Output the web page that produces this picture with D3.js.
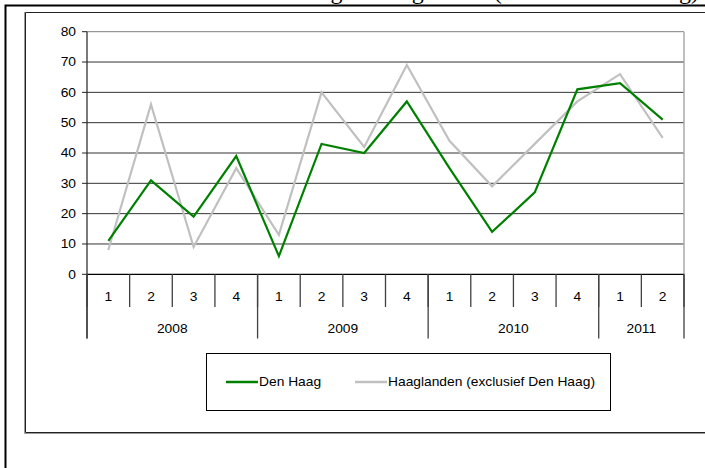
<!DOCTYPE html>
<html lang="en">
<head>
<meta charset="UTF-8">
<title>Den Haag - Haaglanden</title>
<script src="https://d3js.org/d3.v7.min.js"></script>
<style>
    body { margin: 0; background: #fff; }
    svg { display: block; }
    text { font-family: "Liberation Sans", Arial, sans-serif; fill: #000; }
</style>
</head>
<body>
<svg id="chart" width="705" height="468"></svg>
<script>
    // data
    const quarters = ["1", "2", "3", "4", "1", "2", "3", "4", "1", "2", "3", "4", "1", "2"];
    const years = ["2008", "2009", "2010", "2011"];
    const yearCounts = [4, 4, 4, 2];
    const denHaag = [11, 31, 19, 39, 6, 43, 40, 57, 35, 14, 27, 61, 63, 51];
    const haaglanden = [8, 56, 9, 35, 13, 60, 42, 69, 44, 29, 43, 57, 66, 45];
    const yTicks = [0, 10, 20, 30, 40, 50, 60, 70, 80];
    const seriesNames = ["Den Haag", "Haaglanden (exclusief Den Haag)"];
    const seriesColors = ["#008000", "#c0c0c0"];

    (function () {
        const svg = d3.select("#chart");
        const left = 87, right = 684, plotTop = 31.7, bottom = 274.3;
        const qRow = 307, yRow = 338.5;
        const sx = 1.15; // text in the picture is a bit stretched sideways

        // page title, cut off at the top
        svg.append("text")
            .attr("x", 699).attr("y", -1.5)
            .attr("text-anchor", "end")
            .style("font-family", "'Liberation Serif', 'Times New Roman', serif")
            .style("font-size", "24px")
            .text("Ontwikkeling in Haaglanden (exclusief Den Haag)");

        // outer frame
        svg.append("path")
            .attr("d", "M5.5,468 V5.5 H705")
            .attr("fill", "none").attr("stroke", "#000").attr("stroke-width", 2);

        // chart frame
        svg.append("path")
            .attr("d", "M24.5,12 V433.5 H710")
            .attr("fill", "none").attr("stroke", "#999").attr("stroke-width", 1);
        svg.append("path")
            .attr("d", "M710,12.5 H25.5 V432.5 H710")
            .attr("fill", "none").attr("stroke", "#222").attr("stroke-width", 1);

        const x = d3.scaleBand().domain(d3.range(quarters.length)).range([left, right]);
        const y = d3.scaleLinear().domain([0, 80]).range([bottom, plotTop]);

        // grid
        svg.append("g").selectAll("line")
            .data(yTicks.slice(1))
            .join("line")
            .attr("x1", left).attr("x2", right)
            .attr("y1", d => y(d)).attr("y2", d => y(d))
            .attr("stroke", d => d === 80 ? "#808080" : "#333")
            .attr("stroke-width", 1);

        // plot right edge
        svg.append("line")
            .attr("x1", right).attr("x2", right)
            .attr("y1", plotTop).attr("y2", bottom)
            .attr("stroke", "#aaa").attr("stroke-width", 1.5);

        // y axis
        const yAxis = svg.append("g");
        yAxis.append("line")
            .attr("x1", left).attr("x2", left)
            .attr("y1", plotTop).attr("y2", yRow)
            .attr("stroke", "#222").attr("stroke-width", 1.2);
        yAxis.selectAll("line.tick")
            .data(yTicks)
            .join("line")
            .attr("class", "tick")
            .attr("x1", left - 5).attr("x2", left)
            .attr("y1", d => y(d)).attr("y2", d => y(d))
            .attr("stroke", "#222");
        yAxis.selectAll("text")
            .data(yTicks)
            .join("text")
            .attr("transform", d => `translate(76,${y(d)}) scale(${sx},1)`)
            .attr("text-anchor", "end")
            .attr("dy", "0.35em")
            .style("font-size", "12px")
            .text(d => d);

        // x axis base
        svg.append("line")
            .attr("x1", left).attr("x2", right)
            .attr("y1", bottom).attr("y2", bottom)
            .attr("stroke", "#000").attr("stroke-width", 1.2);

        // quarter separators
        const bounds = d3.range(quarters.length + 1).map(i => left + i * x.step());
        svg.append("g").selectAll("line")
            .data(bounds)
            .join("line")
            .attr("x1", d => d).attr("x2", d => d)
            .attr("y1", bottom).attr("y2", qRow)
            .attr("stroke", "#404040").attr("stroke-width", 1.3);

        // year separators
        const yearStarts = [0];
        yearCounts.forEach((n, i) => yearStarts.push(yearStarts[i] + n));
        svg.append("g").selectAll("line")
            .data(yearStarts)
            .join("line")
            .attr("x1", d => left + d * x.step()).attr("x2", d => left + d * x.step())
            .attr("y1", bottom).attr("y2", yRow)
            .attr("stroke", "#404040").attr("stroke-width", 1.3);

        svg.append("g").selectAll("text")
            .data(quarters)
            .join("text")
            .attr("transform", (d, i) => `translate(${x(i) + x.bandwidth() / 2},297) scale(${sx},1)`)
            .attr("text-anchor", "middle")
            .attr("dy", "0.35em")
            .style("font-size", "12px")
            .text(d => d);

        svg.append("g").selectAll("text")
            .data(years)
            .join("text")
            .attr("transform", (d, i) => {
                const cx = left + (yearStarts[i] + yearCounts[i] / 2) * x.step();
                return `translate(${cx},329) scale(${sx},1)`;
            })
            .attr("text-anchor", "middle")
            .attr("dy", "0.35em")
            .style("font-size", "12px")
            .text(d => d);

        // lines
        const line = d3.line()
            .x((d, i) => x(i) + x.bandwidth() / 2)
            .y(d => y(d));

        svg.append("path")
            .datum(haaglanden)
            .attr("d", line)
            .attr("fill", "none")
            .attr("stroke", seriesColors[1])
            .attr("stroke-width", 2.2);

        svg.append("path")
            .datum(denHaag)
            .attr("d", line)
            .attr("fill", "none")
            .attr("stroke", seriesColors[0])
            .attr("stroke-width", 2.2);

        // legend
        const legend = svg.append("g");
        legend.append("rect")
            .attr("x", 206.5).attr("y", 353.5)
            .attr("width", 404).attr("height", 57)
            .attr("fill", "#fff").attr("stroke", "#000");

        const legendX = [226, 355];
        seriesNames.forEach((name, i) => {
            legend.append("line")
                .attr("x1", legendX[i]).attr("x2", legendX[i] + 32)
                .attr("y1", 382).attr("y2", 382)
                .attr("stroke", seriesColors[i]).attr("stroke-width", 2.5);
            legend.append("text")
                .attr("transform", `translate(${legendX[i] + 33},382) scale(${sx},1)`)
                .attr("dy", "0.35em")
                .style("font-size", "12px")
                .text(name);
        });
    })();
</script>
</body>
</html>
